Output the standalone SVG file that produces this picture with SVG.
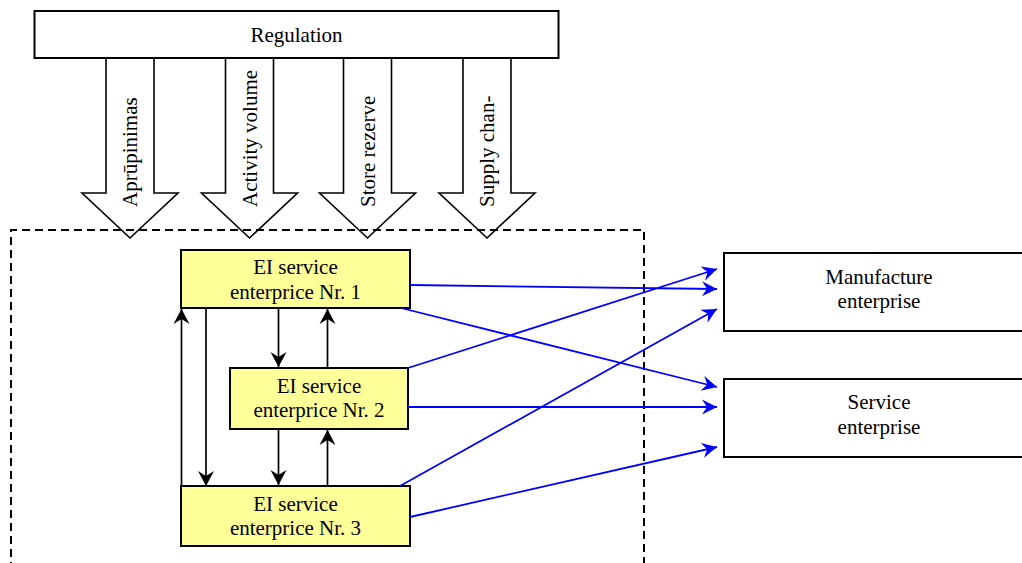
<svg xmlns="http://www.w3.org/2000/svg" width="1022" height="563" viewBox="0 0 1022 563">
<style>
text{font-family:"Liberation Serif","Times New Roman","DejaVu Serif",serif;font-size:21px;fill:#000}
.box{fill:#fff;stroke:#000;stroke-width:2}
.ei{fill:#ffff99;stroke:#000;stroke-width:2}
.block{fill:#fff;stroke:#000;stroke-width:1.6;stroke-linejoin:miter}
.blk{fill:none;stroke:#000;stroke-width:1.7}
.blu{fill:none;stroke:#0000ff;stroke-width:1.8}
.c{text-anchor:middle}
</style>
<defs>
<marker id="ab" markerUnits="userSpaceOnUse" markerWidth="20" markerHeight="20" viewBox="-16 -10 20 20" refX="0" refY="0" orient="auto">
<path d="M0,0 L-15,-8 L-10,0 L-15,8 Z" fill="#000"/>
</marker>
<marker id="au" markerUnits="userSpaceOnUse" markerWidth="20" markerHeight="20" viewBox="-16 -10 20 20" refX="0" refY="0" orient="auto">
<path d="M0,0 L-15,-7.5 L-10,0 L-15,7.5 Z" fill="#0000ff"/>
</marker>
</defs>

<g id="block-arrows">
<path class="block" d="M106,58 V193 H82 L130,238 L178,193 H154 V58"/>
<path class="block" d="M225.5,58 V193 H201.5 L249.5,238 L297.5,193 H273.5 V58"/>
<path class="block" d="M343.5,58 V193 H319.5 L367.5,238 L415.5,193 H391.5 V58"/>
<path class="block" d="M463,58 V193 H439 L487,238 L535,193 H511 V58"/>
<text font-family="Liberation Serif, serif" transform="translate(137,207) rotate(-90)">Aprūpinimas</text>
<text font-family="Liberation Serif, serif" transform="translate(256.5,207) rotate(-90)">Activity volume</text>
<text font-family="Liberation Serif, serif" transform="translate(374.5,207) rotate(-90)">Store rezerve</text>
<text font-family="Liberation Serif, serif" transform="translate(494,207) rotate(-90)">Supply chan-</text>
</g>

<g id="regulation">
<rect class="box" x="34.5" y="11" width="524" height="47"/>
<text class="c" x="296.5" y="42">Regulation</text>
</g>

<g id="boundary">
<path d="M11,570 V230 H644 V570" fill="none" stroke="#000" stroke-width="2" stroke-dasharray="8,5"/>
</g>

<g id="ei1">
<rect class="ei" x="181" y="250" width="229" height="58"/>
<text class="c" x="295.5" y="274">EI service</text>
<text class="c" x="295.5" y="299">enterprice Nr. 1</text>
</g>

<g id="ei2">
<rect class="ei" x="230" y="368" width="178" height="61"/>
<text class="c" x="319" y="393">EI service</text>
<text class="c" x="319" y="417">enterprice Nr. 2</text>
</g>

<g id="ei3">
<rect class="ei" x="181" y="486" width="229" height="60"/>
<text class="c" x="295.5" y="511">EI service</text>
<text class="c" x="295.5" y="535">enterprice Nr. 3</text>
</g>

<g id="manufacture">
<rect class="box" x="724" y="253" width="320" height="78"/>
<text class="c" x="879" y="284">Manufacture</text>
<text class="c" x="879" y="308">enterprise</text>
</g>

<g id="service">
<rect class="box" x="724" y="379" width="320" height="78"/>
<text class="c" x="879" y="409">Service</text>
<text class="c" x="879" y="434">enterprise</text>
</g>

<g id="connectors">
<path class="blk" d="M181.5,486 V309" marker-end="url(#ab)"/>
<path class="blk" d="M206,308 V486" marker-end="url(#ab)"/>
<path class="blk" d="M278.5,308 V367" marker-end="url(#ab)"/>
<path class="blk" d="M327.5,368 V309" marker-end="url(#ab)"/>
<path class="blk" d="M278.5,429 V485" marker-end="url(#ab)"/>
<path class="blk" d="M327.5,486 V430" marker-end="url(#ab)"/>
<path class="blu" d="M410,285 L717,289" marker-end="url(#au)"/>
<path class="blu" d="M401,308 L717,387" marker-end="url(#au)"/>
<path class="blu" d="M408,368 L717,269" marker-end="url(#au)"/>
<path class="blu" d="M408,407 L717,407" marker-end="url(#au)"/>
<path class="blu" d="M400,486 L717,309" marker-end="url(#au)"/>
<path class="blu" d="M410,517 L717,447" marker-end="url(#au)"/>
</g>
</svg>
